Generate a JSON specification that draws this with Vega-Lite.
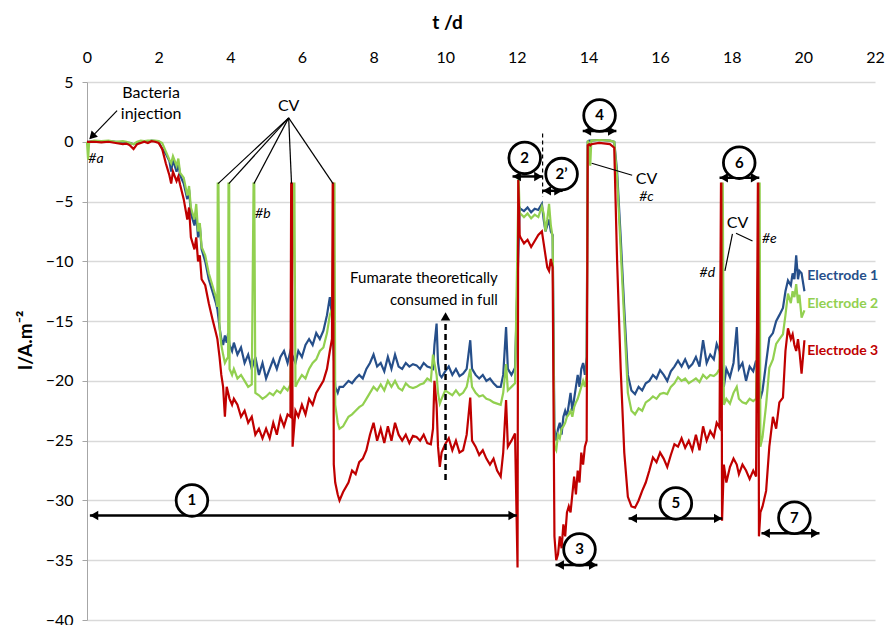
{
"$schema":"https://vega.github.io/schema/vega-lite/v6.json",
"autosize":{"type":"none"},
"padding":{"left":87,"top":82,"right":10,"bottom":5},
"width":788,"height":538,
"config":{"font":"Lato","view":{"stroke":null},"background":"white"},
"datasets":{
"ts":[
{"t":0,"e1":0,"e2":0,"e3":0},{"t":0.03,"e2":-1.5},{"t":0.06,"e1":0,"e2":0,"e3":0},
{"t":0.2,"e1":0.05,"e2":0.1,"e3":0},{"t":0.4,"e1":0,"e2":0.05,"e3":-0.05},{"t":0.6,"e1":0.05,"e2":0.1,"e3":0},
{"t":0.8,"e1":0,"e2":0,"e3":-0.1},{"t":1.0,"e1":-0.05,"e2":0.05,"e3":-0.2},{"t":1.1,"e1":-0.1,"e2":0,"e3":-0.15},
{"t":1.2,"e1":-0.1,"e2":-0.1,"e3":-0.3},{"t":1.3,"e1":-0.2,"e2":-0.2,"e3":-0.6},{"t":1.4,"e1":-0.1,"e2":0,"e3":-0.2},
{"t":1.5,"e1":0,"e2":0.1,"e3":-0.1},{"t":1.6,"e1":0.05,"e2":0.05,"e3":0},{"t":1.7,"e1":0,"e2":0.1,"e3":-0.1},
{"t":1.8,"e1":0.1,"e2":0.1,"e3":0.05},{"t":1.9,"e1":0.05,"e2":0.1,"e3":0},{"t":2.0,"e1":0,"e2":0.05,"e3":-0.1},
{"t":2.1,"e1":-0.6,"e2":-0.1,"e3":-0.6},{"t":2.2,"e1":-1.0,"e2":-0.8,"e3":-1.8},{"t":2.3,"e1":-1.6,"e2":-1.5,"e3":-2.8},
{"t":2.35,"e1":-2.5,"e2":-1.8,"e3":-3.5},{"t":2.4,"e1":-1.5,"e2":-1.2,"e3":-2.5},{"t":2.5,"e1":-2.5,"e2":-2.0,"e3":-3.3},
{"t":2.55,"e1":-1.8,"e2":-1.4,"e3":-2.9},{"t":2.6,"e1":-2.8,"e2":-2.6,"e3":-3.6},{"t":2.7,"e1":-3.5,"e2":-3.0,"e3":-4.8},
{"t":2.8,"e1":-4.8,"e2":-4.5,"e3":-6.5},{"t":2.85,"e1":-4.0,"e2":-3.7,"e3":-5.5},{"t":2.9,"e1":-6.0,"e2":-5.5,"e3":-8.0},
{"t":3.0,"e1":-7.0,"e2":-6.5,"e3":-9.0},{"t":3.05,"e1":-6.0,"e2":-5.2,"e3":-8.0},{"t":3.1,"e1":-8.0,"e2":-7.5,"e3":-10.0},
{"t":3.15,"e1":-7.0,"e2":-6.8,"e3":-9.5},{"t":3.2,"e1":-9.0,"e2":-8.8,"e3":-11.5},{"t":3.3,"e1":-10.0,"e2":-9.5,"e3":-12.0},
{"t":3.4,"e1":-11.5,"e2":-11.0,"e3":-13.5},{"t":3.5,"e1":-12.5,"e2":-12.0,"e3":-14.8},{"t":3.6,"e1":-13.5,"e2":-13.0,"e3":-16.0},
{"t":3.64,"e1":-14.0,"e2":-13.8,"e3":-16.5},{"t":3.65,"e2":-3.5},{"t":3.67,"e2":-3.5},
{"t":3.7,"e1":-15.5,"e2":-15.5,"e3":-18.0},{"t":3.75,"e1":-16.5,"e2":-17.0,"e3":-19.5},{"t":3.8,"e1":-17.0,"e2":-17.8,"e3":-20.5},
{"t":3.85,"e1":-16.2,"e2":-18.5,"e3":-23.0},{"t":3.9,"e1":-16.8,"e2":-18.2,"e3":-20.5},{"t":3.94,"e1":-16.0,"e2":-18.0,"e3":-21.0},
{"t":3.95,"e2":-3.5},{"t":3.97,"e2":-3.5},
{"t":3.98,"e1":-17.0,"e2":-19.0,"e3":-21.5},{"t":4.05,"e1":-17.5,"e2":-19.5,"e3":-22.0},{"t":4.1,"e1":-16.8,"e2":-19.0,"e3":-21.5},
{"t":4.2,"e1":-17.8,"e2":-19.8,"e3":-22.0},{"t":4.3,"e1":-17.2,"e2":-19.5,"e3":-23.0},{"t":4.4,"e1":-18.5,"e2":-20.0,"e3":-22.5},
{"t":4.5,"e1":-17.8,"e2":-20.5,"e3":-23.5},{"t":4.6,"e1":-19.0,"e2":-20.3,"e3":-23.0},
{"t":4.65,"e2":-3.5},{"t":4.67,"e2":-3.5},
{"t":4.7,"e1":-18.0,"e2":-21.0,"e3":-24.5},{"t":4.8,"e1":-19.5,"e2":-21.2,"e3":-24.0},{"t":4.9,"e1":-18.5,"e2":-21.5,"e3":-24.8},
{"t":5.0,"e1":-19.8,"e2":-21.3,"e3":-24.0},{"t":5.1,"e1":-19.0,"e2":-21.0,"e3":-24.8},{"t":5.2,"e1":-18.2,"e2":-21.2,"e3":-23.5},
{"t":5.3,"e1":-19.0,"e2":-20.8,"e3":-24.5},{"t":5.4,"e1":-18.0,"e2":-21.0,"e3":-23.0},{"t":5.5,"e1":-17.5,"e2":-20.5,"e3":-23.8},
{"t":5.6,"e1":-18.5,"e2":-20.8,"e3":-22.8},{"t":5.68,"e1":-17.5,"e2":-20.3,"e3":-23.0},
{"t":5.7,"e3":-3.5},{"t":5.72,"e3":-3.5},{"t":5.74,"e3":-25.5},{"t":5.77,"e2":-3.5},{"t":5.79,"e2":-3.5},
{"t":5.82,"e1":-18.5,"e2":-20.5,"e3":-22.5},{"t":5.9,"e1":-17.5,"e2":-20.0,"e3":-23.0},{"t":6.0,"e1":-18.0,"e2":-19.5,"e3":-22.0},
{"t":6.1,"e1":-17.0,"e2":-19.8,"e3":-22.8},{"t":6.2,"e1":-16.5,"e2":-19.0,"e3":-21.5},{"t":6.3,"e1":-17.0,"e2":-18.5,"e3":-22.0},
{"t":6.4,"e1":-16.0,"e2":-18.2,"e3":-21.0},{"t":6.5,"e1":-16.5,"e2":-17.5,"e3":-20.5},{"t":6.6,"e1":-15.8,"e2":-17.2,"e3":-20.0},
{"t":6.7,"e1":-14.5,"e2":-16.0,"e3":-19.0},{"t":6.78,"e1":-13.0,"e2":-14.5,"e3":-17.5},{"t":6.84,"e1":-14.5,"e2":-14.0,"e3":-16.5},
{"t":6.86,"e3":-3.5},{"t":6.87,"e3":-3.5},{"t":6.89,"e3":-27.0},{"t":6.9,"e2":-3.5},{"t":6.91,"e2":-3.5},
{"t":6.93,"e1":-20.5,"e2":-22.0,"e3":-28.5},{"t":7.0,"e1":-21.0,"e2":-23.5,"e3":-29.5},{"t":7.05,"e1":-20.5,"e2":-24.0,"e3":-30.0},
{"t":7.15,"e1":-20.5,"e2":-23.8,"e3":-29.3},{"t":7.3,"e1":-20.0,"e2":-23.0,"e3":-28.5},{"t":7.4,"e1":-20.2,"e2":-22.8,"e3":-27.5},
{"t":7.5,"e1":-19.8,"e2":-22.5,"e3":-27.8},{"t":7.6,"e1":-19.5,"e2":-22.2,"e3":-26.8},{"t":7.7,"e1":-19.8,"e2":-22.0,"e3":-26.5},
{"t":7.8,"e1":-19.0,"e2":-21.5,"e3":-25.8},{"t":7.9,"e1":-18.5,"e2":-21.0,"e3":-24.5},{"t":8.0,"e1":-17.8,"e2":-20.5,"e3":-23.5},
{"t":8.1,"e1":-18.8,"e2":-20.8,"e3":-25.0},{"t":8.2,"e1":-18.5,"e2":-20.3,"e3":-24.0},{"t":8.3,"e1":-19.2,"e2":-20.8,"e3":-25.2},
{"t":8.4,"e1":-18.0,"e2":-20.0,"e3":-23.8},{"t":8.5,"e1":-19.0,"e2":-20.5,"e3":-25.0},{"t":8.6,"e1":-17.8,"e2":-20.0,"e3":-23.5},
{"t":8.7,"e1":-18.8,"e2":-20.6,"e3":-24.5},{"t":8.8,"e1":-19.0,"e2":-20.8,"e3":-25.0},{"t":8.9,"e1":-18.5,"e2":-20.2,"e3":-24.5},
{"t":9.0,"e1":-18.8,"e2":-20.5,"e3":-25.2},{"t":9.1,"e1":-18.6,"e2":-20.6,"e3":-24.6},{"t":9.2,"e1":-18.7,"e2":-20.5,"e3":-24.7},
{"t":9.3,"e1":-19.0,"e2":-20.3,"e3":-25.0},{"t":9.4,"e1":-18.5,"e2":-20.2,"e3":-24.5},{"t":9.5,"e1":-18.8,"e2":-19.8,"e3":-25.2},
{"t":9.6,"e1":-18.9,"e2":-20.0,"e3":-25.3},{"t":9.66,"e1":-19.0,"e2":-17.8,"e3":-24.0},{"t":9.7,"e1":-17.0,"e2":-18.5,"e3":-20.0},
{"t":9.76,"e1":-15.2,"e2":-19.5,"e3":-22.0},{"t":9.8,"e1":-18.5,"e2":-21.0,"e3":-25.5},{"t":9.85,"e1":-19.5,"e2":-21.9,"e3":-27.2},
{"t":9.9,"e1":-19.7,"e2":-21.5,"e3":-26.0},{"t":10.0,"e1":-19.2,"e2":-20.8,"e3":-25.3},{"t":10.1,"e1":-18.8,"e2":-21.0,"e3":-24.8},
{"t":10.2,"e1":-19.5,"e2":-21.2,"e3":-25.8},{"t":10.3,"e1":-19.0,"e2":-20.8,"e3":-25.0},{"t":10.4,"e1":-19.6,"e2":-21.2,"e3":-26.0},
{"t":10.5,"e1":-19.4,"e2":-21.0,"e3":-25.8},{"t":10.6,"e1":-19.0,"e2":-20.5,"e3":-24.5},{"t":10.7,"e1":-16.6,"e2":-19.0,"e3":-21.4},
{"t":10.75,"e1":-19.0,"e2":-20.5,"e3":-25.0},{"t":10.85,"e1":-19.5,"e2":-21.0,"e3":-25.5},{"t":10.95,"e1":-19.8,"e2":-21.3,"e3":-26.2},
{"t":11.05,"e1":-19.5,"e2":-21.2,"e3":-25.8},{"t":11.15,"e1":-20.0,"e2":-21.5,"e3":-26.5},{"t":11.25,"e1":-19.8,"e2":-21.6,"e3":-27.0},
{"t":11.35,"e1":-20.2,"e2":-21.8,"e3":-26.5},{"t":11.45,"e1":-20.5,"e2":-21.9,"e3":-27.5},{"t":11.55,"e1":-20.5,"e2":-22.0,"e3":-28.0},
{"t":11.62,"e1":-19.5,"e2":-21.0,"e3":-26.0},{"t":11.7,"e1":-15.5,"e2":-18.6,"e3":-21.6},{"t":11.75,"e1":-19.0,"e2":-20.8,"e3":-25.5},
{"t":11.85,"e1":-19.5,"e2":-20.5,"e3":-25.0},{"t":11.95,"e1":-18.9,"e2":-20.2,"e3":-24.4},
{"t":12.02,"e3":-35.6},{"t":12.04,"e3":-3.2},{"t":12.05,"e2":-3.0},
{"t":12.08,"e1":-5.5,"e2":-6.0,"e3":-7.8},{"t":12.1,"e1":-5.6,"e2":-6.0,"e3":-8.0},{"t":12.2,"e1":-5.8,"e2":-6.3,"e3":-8.5},
{"t":12.3,"e1":-5.5,"e2":-6.0,"e3":-8.2},{"t":12.4,"e1":-5.9,"e2":-6.4,"e3":-8.8},{"t":12.5,"e1":-5.6,"e2":-6.1,"e3":-8.3},
{"t":12.6,"e1":-5.7,"e2":-6.3,"e3":-7.8},{"t":12.7,"e1":-5.2,"e2":-5.4,"e3":-7.5},{"t":12.75,"e1":-6.5,"e2":-6.0,"e3":-8.5},
{"t":12.8,"e1":-7.5,"e2":-7.5,"e3":-9.5},{"t":12.85,"e1":-7.0,"e2":-6.5,"e3":-10.5},{"t":12.9,"e1":-6.5,"e2":-5.2,"e3":-10.8},
{"t":12.95,"e1":-7.5,"e2":-7.0,"e3":-9.8},{"t":13.0,"e1":-7.8,"e2":-8.0,"e3":-10.5},
{"t":13.05,"e1":-24.0,"e2":-25.5,"e3":-33.0},{"t":13.1,"e1":-25.0,"e2":-25.8,"e3":-35.0},{"t":13.15,"e1":-24.0,"e2":-24.5,"e3":-34.5},
{"t":13.2,"e1":-23.5,"e2":-24.8,"e3":-33.0},{"t":13.25,"e1":-24.5,"e2":-24.0,"e3":-34.0},{"t":13.3,"e1":-23.0,"e2":-23.8,"e3":-32.0},
{"t":13.35,"e1":-22.5,"e2":-23.5,"e3":-33.0},{"t":13.4,"e1":-23.0,"e2":-23.0,"e3":-31.0},{"t":13.45,"e1":-22.0,"e2":-22.8,"e3":-30.5},
{"t":13.5,"e1":-21.0,"e2":-22.5,"e3":-31.0},{"t":13.55,"e1":-22.5,"e2":-23.0,"e3":-29.5},{"t":13.6,"e1":-21.5,"e2":-22.2,"e3":-28.0},
{"t":13.65,"e1":-20.5,"e2":-21.8,"e3":-29.5},{"t":13.7,"e1":-19.5,"e2":-21.5,"e3":-27.5},{"t":13.75,"e1":-20.5,"e2":-21.0,"e3":-28.5},
{"t":13.8,"e1":-19.0,"e2":-20.5,"e3":-26.0},{"t":13.85,"e1":-18.5,"e2":-20.0,"e3":-27.0},{"t":13.9,"e1":-19.5,"e2":-20.5,"e3":-25.5},
{"t":13.95,"e1":-18.0,"e2":-19.5,"e3":-25.0},{"t":13.98,"e1":0,"e2":0.1,"e3":-0.3},{"t":14.02,"e1":0.1,"e2":-0.2,"e3":-0.2},
{"t":14.05,"e1":0.1,"e2":-2.0,"e3":-0.3},{"t":14.08,"e1":0.1,"e2":0.1,"e3":-0.2},{"t":14.3,"e1":0.15,"e2":0.15,"e3":-0.1},
{"t":14.6,"e1":0.1,"e2":0.1,"e3":-0.2},{"t":14.72,"e1":0,"e2":0,"e3":-0.5},
{"t":14.8,"e1":-2.5,"e2":-3.0,"e3":-10.0},{"t":14.9,"e1":-8.0,"e2":-9.0,"e3":-19.0},{"t":15.0,"e1":-14.0,"e2":-15.0,"e3":-26.0},
{"t":15.1,"e1":-19.5,"e2":-21.0,"e3":-29.7},{"t":15.2,"e1":-20.8,"e2":-22.5,"e3":-30.5},{"t":15.3,"e1":-21.1,"e2":-22.8,"e3":-30.6},
{"t":15.4,"e1":-20.5,"e2":-22.3,"e3":-30.0},{"t":15.5,"e1":-20.8,"e2":-22.5,"e3":-29.2},{"t":15.6,"e1":-20.2,"e2":-21.8,"e3":-28.5},
{"t":15.7,"e1":-20.0,"e2":-21.6,"e3":-27.5},{"t":15.8,"e1":-19.5,"e2":-21.3,"e3":-26.4},{"t":15.9,"e1":-19.8,"e2":-21.5,"e3":-26.8},
{"t":16.0,"e1":-19.1,"e2":-21.1,"e3":-26.0},{"t":16.1,"e1":-19.5,"e2":-21.0,"e3":-26.5},{"t":16.2,"e1":-20.0,"e2":-21.1,"e3":-27.2},
{"t":16.3,"e1":-19.2,"e2":-20.5,"e3":-26.2},{"t":16.4,"e1":-18.8,"e2":-20.2,"e3":-25.3},{"t":16.5,"e1":-18.3,"e2":-19.7,"e3":-25.5},
{"t":16.6,"e1":-18.8,"e2":-20.0,"e3":-24.8},{"t":16.7,"e1":-18.2,"e2":-19.8,"e3":-25.6},{"t":16.8,"e1":-18.9,"e2":-20.2,"e3":-25.0},
{"t":16.9,"e1":-18.6,"e2":-20.0,"e3":-25.8},{"t":17.0,"e1":-18.0,"e2":-19.8,"e3":-24.5},{"t":17.1,"e1":-18.8,"e2":-20.1,"e3":-25.8},
{"t":17.2,"e1":-16.6,"e2":-19.5,"e3":-23.8},{"t":17.3,"e1":-18.5,"e2":-19.8,"e3":-25.0},{"t":17.4,"e1":-17.8,"e2":-19.5,"e3":-24.2},
{"t":17.5,"e1":-18.2,"e2":-19.6,"e3":-24.7},{"t":17.58,"e1":-16.9,"e2":-19.4,"e3":-23.5},{"t":17.66,"e1":-17.5,"e2":-19.0,"e3":-23.9},
{"t":17.7,"e3":-3.5},{"t":17.71,"e3":-3.5},{"t":17.73,"e3":-31.7},{"t":17.74,"e2":-3.5},{"t":17.75,"e2":-3.5},
{"t":17.78,"e1":-20.5,"e2":-22.0,"e3":-27.0},{"t":17.85,"e1":-19.0,"e2":-21.5,"e3":-28.5},{"t":17.95,"e1":-19.7,"e2":-21.9,"e3":-27.2},
{"t":18.05,"e1":-18.5,"e2":-21.0,"e3":-26.5},{"t":18.14,"e1":-15.5,"e2":-20.5,"e3":-27.0},{"t":18.2,"e1":-19.0,"e2":-21.5,"e3":-27.8},
{"t":18.3,"e1":-18.5,"e2":-21.8,"e3":-27.0},{"t":18.4,"e1":-20.0,"e2":-21.9,"e3":-27.5},{"t":18.5,"e1":-18.8,"e2":-21.5,"e3":-28.2},
{"t":18.6,"e1":-19.2,"e2":-21.7,"e3":-27.5},{"t":18.68,"e1":-18.3,"e2":-21.5,"e3":-28.0},
{"t":18.73,"e3":-3.5},{"t":18.74,"e3":-3.5},{"t":18.76,"e3":-33.0},{"t":18.77,"e2":-3.5},{"t":18.78,"e2":-3.5},
{"t":18.8,"e1":-21.5,"e2":-25.5,"e3":-31.0},{"t":18.86,"e1":-20.8,"e2":-24.7,"e3":-30.5},{"t":18.96,"e1":-18.5,"e2":-22.0,"e3":-29.2},
{"t":19.05,"e1":-16.4,"e2":-18.9,"e3":-25.5},{"t":19.15,"e1":-16.0,"e2":-18.2,"e3":-23.0},{"t":19.24,"e1":-15.0,"e2":-16.9,"e3":-24.0},
{"t":19.33,"e1":-14.5,"e2":-16.5,"e3":-21.8},{"t":19.43,"e1":-13.9,"e2":-16.1,"e3":-21.4},{"t":19.5,"e1":-12.5,"e2":-14.5,"e3":-17.5},
{"t":19.57,"e1":-11.6,"e2":-12.7,"e3":-15.6},{"t":19.65,"e1":-12.0,"e2":-13.5,"e3":-16.5},{"t":19.7,"e1":-11.0,"e2":-12.5,"e3":-16.1},
{"t":19.75,"e1":-11.5,"e2":-13.0,"e3":-17.0},{"t":19.8,"e1":-9.5,"e2":-11.9,"e3":-17.5},{"t":19.85,"e1":-11.5,"e2":-13.5,"e3":-16.5},
{"t":19.89,"e1":-10.8,"e2":-12.8,"e3":-17.5},{"t":19.95,"e1":-11.0,"e2":-14.7,"e3":-19.4},{"t":20.03,"e1":-12.5,"e2":-14.1,"e3":-16.6}
],
"segs":[
{"t":5.63,"v":2.0,"t2":3.66,"v2":-3.5},{"t":5.63,"v":2.0,"t2":3.96,"v2":-3.5},{"t":5.63,"v":2.0,"t2":4.66,"v2":-3.5},
{"t":5.63,"v":2.0,"t2":5.71,"v2":-3.5},{"t":5.63,"v":2.0,"t2":6.87,"v2":-3.5},
{"t":14.09,"v":-1.8,"t2":15.22,"v2":-2.8},
{"t":18.02,"v":-7.7,"t2":17.81,"v2":-10.8},{"t":18.12,"v":-7.65,"t2":18.58,"v2":-8.3},
{"t":0.84,"v":2.6,"t2":0.1,"v2":0.3}
],
"arrows":[
{"t":0.08,"v":-31.25,"t2":12.0},{"t":11.88,"v":-2.9,"t2":12.72},{"t":12.72,"v":-4.1,"t2":13.28},
{"t":13.08,"v":-35.4,"t2":14.25},{"t":13.84,"v":0.9,"t2":14.78},{"t":15.12,"v":-31.5,"t2":17.74},
{"t":17.66,"v":-3.0,"t2":18.77},{"t":18.83,"v":-32.75,"t2":20.45}
],
"heads":[
{"t":0.2,"v":-31.25,"d":"left"},{"t":11.88,"v":-31.25,"d":"right"},
{"t":12.0,"v":-2.9,"d":"left"},{"t":12.6,"v":-2.9,"d":"right"},
{"t":12.84,"v":-4.1,"d":"left"},{"t":13.16,"v":-4.1,"d":"right"},
{"t":13.2,"v":-35.4,"d":"left"},{"t":14.13,"v":-35.4,"d":"right"},
{"t":13.96,"v":0.9,"d":"left"},{"t":14.66,"v":0.9,"d":"right"},
{"t":15.24,"v":-31.5,"d":"left"},{"t":17.62,"v":-31.5,"d":"right"},
{"t":17.78,"v":-3.0,"d":"left"},{"t":18.65,"v":-3.0,"d":"right"},
{"t":18.95,"v":-32.75,"d":"left"},{"t":20.33,"v":-32.75,"d":"right"},
{"t":10.01,"v":-14.6,"d":"up"},
{"t":0.14,"v":0.45,"d":"dl"}
],
"dashes":[{"t":10.01,"v":-28.3,"v2":-15.0}],
"thindash":[{"t":12.72,"v":0.7,"v2":-4.6}],
"circ":[
{"t":2.93,"v":-30.0,"n":"1"},{"t":12.22,"v":-1.35,"n":"2"},{"t":13.25,"v":-2.7,"n":"2’"},
{"t":13.75,"v":-34.1,"n":"3"},{"t":14.31,"v":2.2,"n":"4"},{"t":16.44,"v":-30.25,"n":"5"},
{"t":18.21,"v":-1.75,"n":"6"},{"t":19.75,"v":-31.45,"n":"7"}
],
"notes":[
{"t":1.79,"v":4.1,"txt":"Bacteria","k":"plain"},{"t":1.79,"v":2.35,"txt":"injection","k":"plain"},
{"t":5.63,"v":3.0,"txt":"CV","k":"plain"},{"t":15.62,"v":-3.1,"txt":"CV","k":"plain"},{"t":18.16,"v":-6.8,"txt":"CV","k":"plain"},
{"t":11.47,"v":-11.4,"txt":"Fumarate theoretically","k":"fum"},{"t":11.47,"v":-13.2,"txt":"consumed in full","k":"fum"},
{"t":0.25,"v":-1.4,"txt":"#a","k":"ital"},{"t":4.91,"v":-6.0,"txt":"#b","k":"ital"},{"t":15.62,"v":-4.6,"txt":"#c","k":"ital"},
{"t":17.32,"v":-11.0,"txt":"#d","k":"ital"},{"t":19.05,"v":-8.1,"txt":"#e","k":"ital"},
{"t":20.11,"v":-11.2,"txt":"Electrode 1","k":"e1"},{"t":20.11,"v":-13.6,"txt":"Electrode 2","k":"e2"},{"t":20.11,"v":-17.5,"txt":"Electrode 3","k":"e3"}
]
},
"layer":[
{"data":{"name":"ts"},
"transform":[{"fold":["e1","e2","e3"],"as":["s","v"]},{"filter":"isValid(datum.v)"}],
"mark":{"type":"line","strokeWidth":2.2,"strokeJoin":"miter"},
"encoding":{
"x":{"field":"t","type":"quantitative","scale":{"domain":[0,22],"nice":false,"zero":false},
"axis":{"orient":"top","values":[0,2,4,6,8,10,12,14,16,18,20,22],"grid":false,"domain":false,"ticks":false,"tickSize":0,"labelFlush":false,
"labelFontSize":16,"labelPadding":17,"labelColor":"#000","title":"t /d","titleFontSize":19,"titleFontWeight":"bold","titleColor":"#000","titlePadding":17,"titleX":360}},
"y":{"field":"v","type":"quantitative","scale":{"domain":[-40,5],"nice":false,"zero":false},
"axis":{"values":[-40,-35,-30,-25,-20,-15,-10,-5,0,5],"grid":true,"gridColor":"#d9d9d9","gridWidth":1.5,"domainColor":"#a6a6a6","tickColor":"#a6a6a6","tickSize":5,"labelFlush":false,
"labelFontSize":16,"labelPadding":9,"labelColor":"#000","title":"I/A.m⁻²","titleFontSize":19,"titleFontWeight":"bold","titleColor":"#000","titleX":-52,"titleY":258,"titleAngle":270,"titleBaseline":"bottom","titleAlign":"center"}},
"color":{"field":"s","type":"nominal","scale":{"domain":["e1","e2","e3"],"range":["#264f8a","#92d050","#c00000"]},"legend":null},
"order":{"field":"t","type":"quantitative"}}},
{"data":{"name":"segs"},"mark":{"type":"rule","color":"#000","strokeWidth":1.2},
"encoding":{"x":{"field":"t","type":"quantitative"},"y":{"field":"v","type":"quantitative"},"x2":{"field":"t2"},"y2":{"field":"v2"}}},
{"data":{"name":"arrows"},"mark":{"type":"rule","color":"#000","strokeWidth":2.5},
"encoding":{"x":{"field":"t","type":"quantitative"},"y":{"field":"v","type":"quantitative"},"x2":{"field":"t2"}}},
{"data":{"name":"dashes"},"mark":{"type":"rule","color":"#000","strokeWidth":2.5,"strokeDash":[6,4]},
"encoding":{"x":{"field":"t","type":"quantitative"},"y":{"field":"v","type":"quantitative"},"y2":{"field":"v2"}}},
{"data":{"name":"thindash"},"mark":{"type":"rule","color":"#000","strokeWidth":1.2,"strokeDash":[4,3]},
"encoding":{"x":{"field":"t","type":"quantitative"},"y":{"field":"v","type":"quantitative"},"y2":{"field":"v2"}}},
{"data":{"name":"heads"},"transform":[{"filter":"datum.d == 'left'"}],"mark":{"type":"point","shape":"triangle-left","filled":true,"color":"#000","opacity":1,"size":90},
"encoding":{"x":{"field":"t","type":"quantitative"},"y":{"field":"v","type":"quantitative"}}},
{"data":{"name":"heads"},"transform":[{"filter":"datum.d == 'right'"}],"mark":{"type":"point","shape":"triangle-right","filled":true,"color":"#000","opacity":1,"size":90},
"encoding":{"x":{"field":"t","type":"quantitative"},"y":{"field":"v","type":"quantitative"}}},
{"data":{"name":"heads"},"transform":[{"filter":"datum.d == 'up'"}],"mark":{"type":"point","shape":"triangle-up","filled":true,"color":"#000","opacity":1,"size":90},
"encoding":{"x":{"field":"t","type":"quantitative"},"y":{"field":"v","type":"quantitative"}}},
{"data":{"name":"heads"},"transform":[{"filter":"datum.d == 'dl'"}],"mark":{"type":"point","shape":"triangle-up","angle":225,"filled":true,"color":"#000","opacity":1,"size":80},
"encoding":{"x":{"field":"t","type":"quantitative"},"y":{"field":"v","type":"quantitative"}}},
{"data":{"name":"circ"},"mark":{"type":"point","shape":"circle","filled":true,"fill":"white","stroke":"#000","strokeWidth":2.8,"opacity":1,"size":1000},
"encoding":{"x":{"field":"t","type":"quantitative"},"y":{"field":"v","type":"quantitative"}}},
{"data":{"name":"circ"},"mark":{"type":"text","fontSize":15,"fontWeight":"bold","color":"#000","baseline":"middle","align":"center"},
"encoding":{"x":{"field":"t","type":"quantitative"},"y":{"field":"v","type":"quantitative"},"text":{"field":"n"}}},
{"data":{"name":"notes"},"transform":[{"filter":"datum.k == 'plain'"}],"mark":{"type":"text","fontSize":16,"color":"#000","baseline":"middle","align":"center"},
"encoding":{"x":{"field":"t","type":"quantitative"},"y":{"field":"v","type":"quantitative"},"text":{"field":"txt"}}},
{"data":{"name":"notes"},"transform":[{"filter":"datum.k == 'fum'"}],"mark":{"type":"text","fontSize":15,"color":"#000","baseline":"middle","align":"right"},
"encoding":{"x":{"field":"t","type":"quantitative"},"y":{"field":"v","type":"quantitative"},"text":{"field":"txt"}}},
{"data":{"name":"notes"},"transform":[{"filter":"datum.k == 'ital'"}],"mark":{"type":"text","fontSize":14,"fontStyle":"italic","color":"#000","baseline":"middle","align":"center"},
"encoding":{"x":{"field":"t","type":"quantitative"},"y":{"field":"v","type":"quantitative"},"text":{"field":"txt"}}},
{"data":{"name":"notes"},"transform":[{"filter":"datum.k == 'e1' || datum.k == 'e2' || datum.k == 'e3'"}],"mark":{"type":"text","fontSize":14,"fontWeight":"bold","baseline":"middle","align":"left"},
"encoding":{"x":{"field":"t","type":"quantitative"},"y":{"field":"v","type":"quantitative"},"text":{"field":"txt"},
"color":{"field":"k","type":"nominal","scale":{"domain":["e1","e2","e3"],"range":["#264f8a","#92d050","#c00000"]},"legend":null}}}
]
}
